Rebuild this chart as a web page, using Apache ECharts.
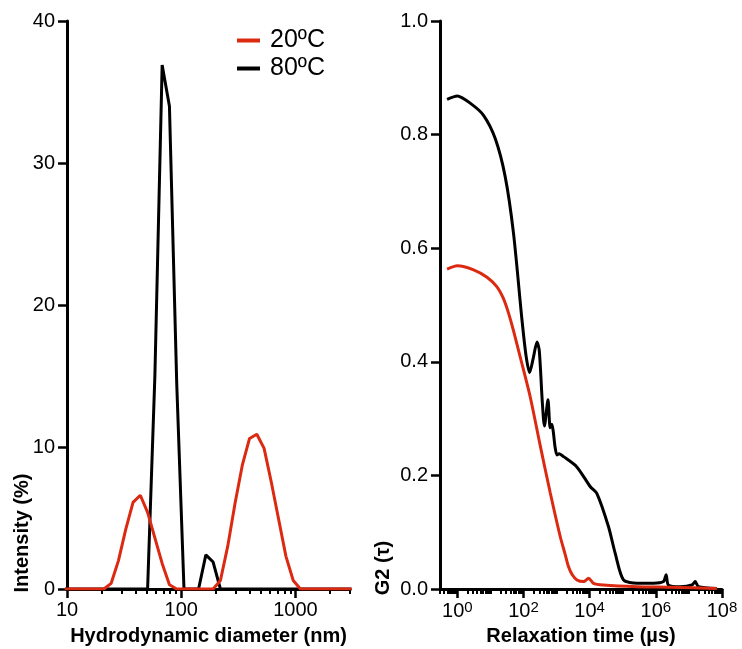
<!DOCTYPE html>
<html>
<head>
<meta charset="utf-8">
<script src="https://cdn.jsdelivr.net/npm/echarts@6/dist/echarts.min.js"></script>
<style>
html,body{margin:0;padding:0;background:#fff;}
#chart{width:742px;height:649px;}
</style>
</head>
<body>
<div id="chart"></div>
<script>
// ---- Left panel: size distribution ----
const sizeNm = [8.721,10.10,11.70,13.54,15.69,18.17,21.04,24.36,28.21,32.67,37.84,43.82,50.75,58.77,68.06,78.82,91.28,105.7,122.4,141.8,164.2,190.1,220.2,255.0,295.3,342.0,396.1,458.7,531.2,615.1,712.4,825.0,955.4,1106,1281,1484,1718,1990,2305,2669,3091];
const intensity20 = [0,0,0,0,0,0,0,0.4,2.0,4.2,6.1,6.6,5.4,3.6,1.8,0.3,0,0,0,0,0,0,0.6,3.0,6.0,8.7,10.6,10.9,9.9,7.5,4.9,2.3,0.6,0,0,0,0,0,0,0,0];
const intensity80 = [0,0,0,0,0,0,0,0,0,0,0,0,0,15,36.9,34.0,14.5,0,0,0,2.4,1.9,0,0,0,0,0,0,0,0,0,0,0,0,0,0,0,0,0,0,0];
const sizeMajorTicks = [10,100,1000];
const sizeMinorTicks = [20,30,40,50,60,70,80,90,200,300,400,500,600,700,800,900,2000,3000];

// ---- Right panel: correlation function ----
const tau20 = [0.49,1.0,3.1,7.9,15.8,24.5,34.8,49.2,80,160,322,646,1294,1800,2300,2980,4130,6540,9300,13000,26000,270000,2700000,70000000];
const g2_20 = [0.563,0.569,0.562,0.549,0.532,0.512,0.487,0.456,0.408,0.338,0.252,0.169,0.092,0.062,0.039,0.025,0.016,0.013,0.019,0.010,0.007,0.004,0.003,0.001];
const tau80 = [0.49,1.0,2.5,6.2,14,28,50,90,120,153,200,256,300,370,430,550,640,720,800,900,1030,1200,1630,4100,10500,16600,37000,59000,105000,270000,850000,1700000,2050000,2400000,5500000,12300000,15500000,19500000,70000000];
const g2_80 = [0.862,0.868,0.855,0.834,0.793,0.726,0.626,0.474,0.410,0.381,0.408,0.435,0.420,0.330,0.287,0.333,0.284,0.290,0.276,0.250,0.236,0.238,0.233,0.215,0.180,0.168,0.110,0.063,0.016,0.010,0.010,0.013,0.025,0.007,0.004,0.007,0.013,0.004,0.001];
const tauMajorTicks = [1,100,1e4,1e6,1e8];
const tauMinorTicks = [];
[0.1,1,10,100,1000,1e4,1e5,1e6,1e7].forEach(function(d){ for (let k=1;k<=9;k++){ const v=d*k; if (v>=0.3 && v<=1e8 && !tauMajorTicks.includes(v)) tauMinorTicks.push(v);} });

const seriesNames = ['20ºC','80ºC'];
const RED = '#dc2a12';
const FONT = 'Liberation Sans, Arial, Helvetica, sans-serif';

function zip(xs, ys){ return xs.map(function(x,i){ return [x, ys[i]]; }); }

const chart = echarts.init(document.getElementById('chart'), null, {renderer:'canvas'});

function xMain(grid, min, max, ticks, formatter, name){
  return {
    type:'log', logBase:10, gridIndex:grid, min:min, max:max, position:'bottom',
    axisLine:{show:true, onZero:false, lineStyle:{color:'#000', width:3}},
    axisTick:{show:true, inside:false, length:9, customValues:ticks, lineStyle:{color:'#000', width:2.5}},
    axisLabel:{show:true, customValues:ticks, formatter:formatter, fontSize:20, color:'#000', fontFamily:FONT, margin:11},
    splitLine:{show:false}, minorTick:{show:false}, minorSplitLine:{show:false},
    name:name, nameLocation:'middle', nameGap:37,
    nameTextStyle:{fontSize:20, fontWeight:'bold', color:'#000', fontFamily:FONT}
  };
}
function xMinor(grid, min, max, ticks){
  return {
    type:'log', logBase:10, gridIndex:grid, min:min, max:max, position:'bottom',
    axisLine:{show:false, onZero:false},
    axisTick:{show:true, inside:false, length:5, customValues:ticks, lineStyle:{color:'#000', width:2}},
    axisLabel:{show:false}, splitLine:{show:false}, minorTick:{show:false}
  };
}
function yAx(grid, max, interval, formatter){
  return {
    type:'value', gridIndex:grid, min:0, max:max, interval:interval,
    axisLine:{show:true, onZero:false, lineStyle:{color:'#000', width:3}},
    axisTick:{show:true, inside:false, length:9, lineStyle:{color:'#000', width:2.5}},
    axisLabel:{fontSize:20, color:'#000', fontFamily:FONT, margin:12, formatter:formatter},
    splitLine:{show:false}
  };
}

const option = {
  animation:false,
  backgroundColor:'#fff',
  grid:[
    {left:67, top:21, width:283, height:568, containLabel:false, outerBoundsMode:'none'},
    {left:440, top:21, width:282, height:568, containLabel:false, outerBoundsMode:'none'}
  ],
  legend:{
    data:seriesNames, orient:'vertical', left:232, top:23, itemWidth:23, itemHeight:4, itemGap:3,
    icon:'rect', textStyle:{fontSize:25, color:'#000', fontFamily:FONT, padding:[0,0,0,5]}
  },
  xAxis:[
    xMain(0, 10, 3000, sizeMajorTicks, function(v){ return String(Math.round(v)); }, 'Hydrodynamic diameter (nm)'),
    xMinor(0, 10, 3000, sizeMinorTicks),
    xMain(1, 0.3, 1e8, tauMajorTicks, function(v){ return '{b|10}{s|' + Math.round(Math.log10(v)) + '}'; }, 'Relaxation time (µs)'),
    xMinor(1, 0.3, 1e8, tauMinorTicks)
  ],
  yAxis:[
    yAx(0, 40, 10, function(v){ return String(v); }),
    yAx(1, 1.0, 0.2, function(v){ return v.toFixed(1); })
  ],
  graphic:[
    {type:'text', x:22, y:533, rotation:Math.PI/2,
      style:{text:'Intensity (%)', fontSize:20, fontWeight:'bold', fontFamily:FONT, fill:'#000', align:'center', verticalAlign:'middle'}},
    {type:'text', x:383, y:568, rotation:Math.PI/2,
      style:{text:'G2 (τ)', fontSize:20, fontWeight:'bold', fontFamily:FONT, fill:'#000', align:'center', verticalAlign:'middle'}}
  ],
  series:[
    {type:'line', name:'80ºC', xAxisIndex:0, yAxisIndex:0, data:zip(sizeNm, intensity80), showSymbol:false, symbol:'none',
      lineStyle:{color:'#000', width:3}, itemStyle:{color:'#000'}, clip:true},
    {type:'line', name:'20ºC', xAxisIndex:0, yAxisIndex:0, data:zip(sizeNm, intensity20), showSymbol:false, symbol:'none',
      lineStyle:{color:RED, width:3}, itemStyle:{color:RED}, clip:true},
    {type:'line', name:'80ºC', xAxisIndex:2, yAxisIndex:1, data:zip(tau80, g2_80), showSymbol:false, symbol:'none', smooth:0.25,
      lineStyle:{color:'#000', width:3}, itemStyle:{color:'#000'}, clip:true},
    {type:'line', name:'20ºC', xAxisIndex:2, yAxisIndex:1, data:zip(tau20, g2_20), showSymbol:false, symbol:'none', smooth:0.25,
      lineStyle:{color:RED, width:3}, itemStyle:{color:RED}, clip:true}
  ]
};
option.xAxis[2].axisLabel.rich = {
  b:{fontSize:20, color:'#000', fontFamily:FONT},
  s:{fontSize:15, color:'#000', fontFamily:FONT, verticalAlign:'top', padding:[0,0,8,0]}
};
chart.setOption(option);
</script>
</body>
</html>
